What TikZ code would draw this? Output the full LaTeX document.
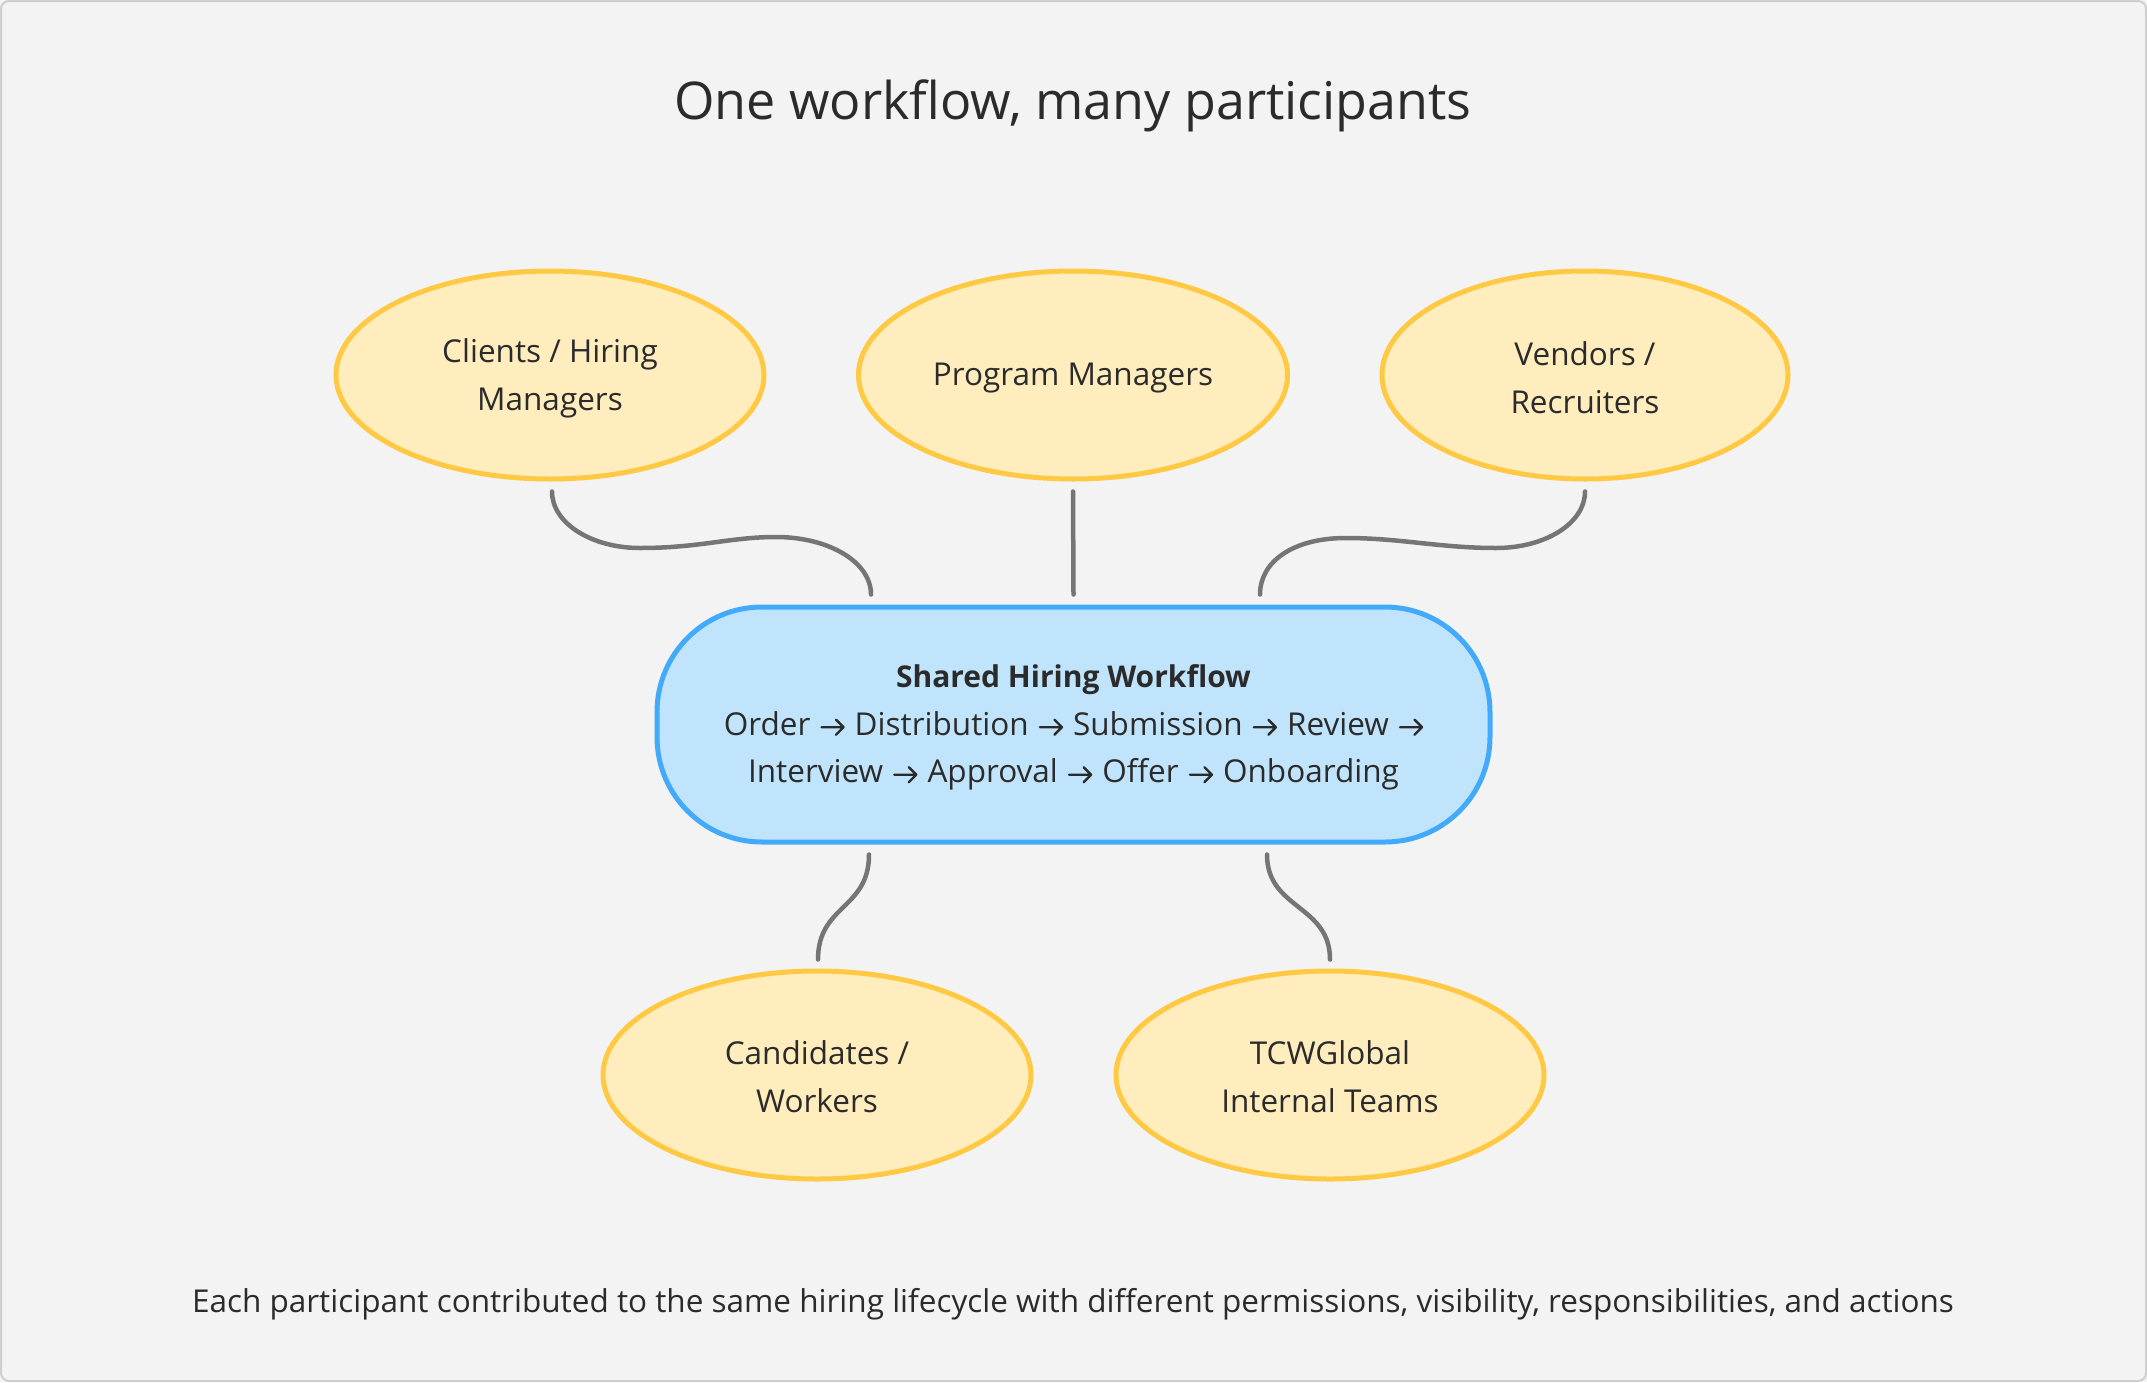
\documentclass[tikz,border=0pt]{standalone}
\usepackage{fontspec}
\setmainfont{Open Sans}
\usetikzlibrary{calc,shapes.geometric}
\definecolor{bgc}{HTML}{F3F3F3}
\definecolor{framec}{HTML}{CFCFCF}
\definecolor{ellfill}{HTML}{FFEDBE}
\definecolor{elldraw}{HTML}{FFC944}
\definecolor{boxfill}{HTML}{C1E4FD}
\definecolor{boxdraw}{HTML}{41AAFB}
\definecolor{linec}{HTML}{757575}
\definecolor{txtc}{HTML}{2B2B2B}
\newcommand\rarr{\hspace{1.8pt}\tikz[x=1pt,y=1pt,baseline=0pt]{\draw[txtc, line width=2.4pt, line cap=round, line join=round] (0,8) -- (22,8) (14.5,0.5) -- (22,8) -- (14.5,15.5);}\hspace{1.8pt}}
\tikzset{
  party/.style={ellipse, draw=elldraw, fill=ellfill, line width=5pt,
    minimum width=428pt, minimum height=208pt, inner sep=0pt},
  partytext/.style={align=center, text=txtc, font=\fontsize{31.5}{48}\selectfont, inner sep=0pt},
  flowbox/.style={draw=boxdraw, fill=boxfill, line width=5pt, rounded corners=105pt,
    minimum width=833pt, minimum height=235pt, inner sep=0pt},
  conn/.style={draw=linec, line width=4.5pt, line cap=round},
}
\begin{document}
\begin{tikzpicture}[x=1pt,y=-1pt]
\fill[bgc] (0,0) rectangle (2147,1382);
\useasboundingbox (0,0) rectangle (2147,1382);
\draw[framec, line width=2pt, rounded corners=8pt] (1,1) rectangle (2146,1381);

\node[text=txtc, font=\fontsize{52}{60}\selectfont] (title) at (1073,106) {One workflow, many participants};

\node[party] (cl) at (550,375) {};
\node[party, minimum width=429pt] (pm) at (1073,375) {};
\node[party, minimum width=406pt] (ve) at (1585,375) {};
\node[party] (ca) at (817,1075) {};
\node[party] (tc) at (1330,1075) {};

\node[partytext] (clT) at ($(cl.center)+(0,3)$) {Clients / Hiring\\Managers};
\node[partytext] (pmT) at ($(pm.center)+(0,3)$) {Program Managers};
\node[partytext] (veT) at ($(ve.center)+(0,3)$) {Vendors /\\Recruiters};
\node[partytext] (caT) at ($(ca.center)+(0,2)$) {Candidates /\\Workers};
\node[partytext] (tcT) at ($(tc.center)+(0,2)$) {TCWGlobal\\Internal Teams};

\node[flowbox] (wf) at (1073.5,724.5) {};
\node[partytext, font=\fontsize{31.5}{47.5}\selectfont] (wfT) at ($(wf.center)+(0,3)$) {{\fontsize{30}{47.5}\selectfont\bfseries Shared Hiring Workflow}\\
Order \rarr{} Distribution \rarr{} Submission \rarr{} Review \rarr\\
Interview \rarr{} Approval \rarr{} Offer \rarr{} Onboarding};

\node[text=txtc, font=\fontsize{31.5}{36}\selectfont] (foot) at (1073,1304) {Each participant contributed to the same hiring lifecycle with different permissions, visibility, responsibilities, and actions};

% connector endpoints
\coordinate (clS) at ($(cl.south)+(2,10)$);
\coordinate (clE) at ($(wf.north)+(-202.5,-10)$);
\coordinate (pmS) at ($(pm.south)+(0,10)$);
\coordinate (pmE) at ($(wf.north)+(0,-10)$);
\coordinate (veS) at ($(ve.south)+(0,10)$);
\coordinate (veE) at ($(wf.north)+(186.5,-10)$);
\coordinate (caS) at ($(wf.south)+(-204.5,10)$);
\coordinate (caE) at ($(ca.north)+(1,-9)$);
\coordinate (tcS) at ($(wf.south)+(193.5,10)$);
\coordinate (tcE) at ($(tc.north)+(0,-9)$);

\draw[conn] (clS) .. controls +(0,32) and (592,548) .. (640,548)
  .. controls (700,548) and (730,537) .. (776,537)
  .. controls (828,537) and ($(clE)+(0,-33)$) .. (clE);
\draw[conn] (pmS) -- (pmE);
\draw[conn] (veS) .. controls +(0,32) and (1545,548) .. (1496,548)
  .. controls (1440,548) and (1400,538) .. (1346,538)
  .. controls (1293,538) and ($(veE)+(0,-33)$) .. (veE);
\draw[conn] (caS) .. controls +(0,55) and ($(caE)+(0,-55)$) .. (caE);
\draw[conn] (tcS) .. controls +(0,55) and ($(tcE)+(0,-55)$) .. (tcE);
\end{tikzpicture}
\end{document}
